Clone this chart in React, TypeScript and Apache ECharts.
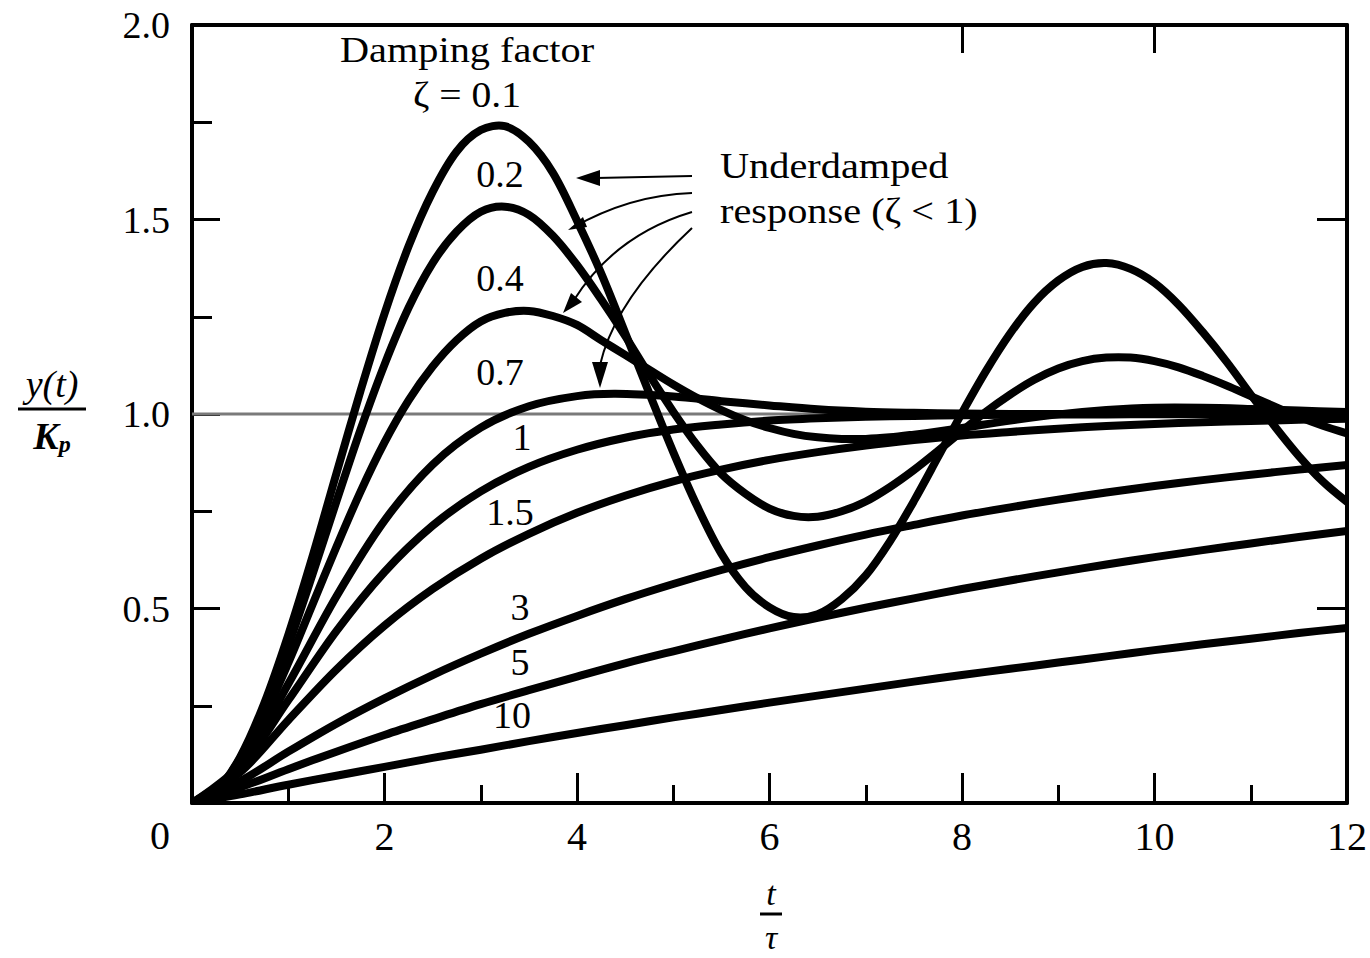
import React, { useEffect, useRef } from "react";
import * as echarts from "echarts";

const FONT = "'Liberation Serif', 'DejaVu Serif', serif";

// time samples (t / tau)
const T = [0, 0.5, 1, 1.5, 2, 2.5, 3, 3.5, 4, 4.5, 5, 5.5, 6, 6.5, 7, 7.5, 8, 8.5, 9, 9.5, 10, 10.5, 11, 11.5, 12];
const T_Q = [
  0, 0.25, 0.5, 0.75, 1, 1.25, 1.5, 1.75, 2, 2.25, 2.5, 2.75, 3, 3.25, 3.5, 3.75, 4, 4.25, 4.5, 4.75, 5, 5.25, 5.5, 5.75,
  6, 6.25, 6.5, 6.75, 7, 7.25, 7.5, 7.75, 8, 8.25, 8.5, 8.75, 9, 9.25, 9.5, 9.75, 10, 10.25, 10.5, 10.75, 11, 11.25, 11.5, 11.75, 12,
];
const T04 = [
  0, 0.25, 0.5, 0.75, 1, 1.25, 1.5, 1.75, 2, 2.25, 2.5, 2.75, 3, 3.25, 3.5, 3.75, 4, 4.25, 4.5, 4.75, 5, 5.25, 5.5, 5.75,
  6, 6.25, 6.5, 6.75, 7, 7.25, 7.5, 7.75, 8, 8.5, 9, 9.5, 10, 10.5, 11, 11.5, 12,
];
const T07 = [0, 0.5, 1, 1.5, 2, 2.5, 3, 3.5, 4, 4.4, 5, 5.5, 6, 6.5, 7, 7.5, 8, 9, 10, 11, 12];

// y(t)/Kp, per damping factor
const Z01 = [
  0, 0.031, 0.118, 0.256, 0.432, 0.632, 0.847, 1.059, 1.258, 1.431, 1.571, 1.675, 1.73, 1.74, 1.7, 1.62, 1.497, 1.362, 1.209, 1.054,
  0.902, 0.762, 0.641, 0.555, 0.503, 0.478, 0.485, 0.524, 0.585, 0.672, 0.776, 0.889, 1.003, 1.111, 1.207, 1.286, 1.343, 1.378,
  1.388, 1.373, 1.337, 1.281, 1.211, 1.134, 1.05, 0.968, 0.892, 0.826, 0.774,
];
const Z02 = [
  0, 0.03, 0.115, 0.244, 0.405, 0.586, 0.775, 0.959, 1.127, 1.273, 1.388, 1.469, 1.52, 1.533, 1.512, 1.458, 1.383, 1.295, 1.201, 1.101,
  1.006, 0.919, 0.846, 0.795, 0.757, 0.738, 0.736, 0.75, 0.775, 0.812, 0.856, 0.905, 0.956, 1.006, 1.05, 1.088, 1.117, 1.136,
  1.145, 1.145, 1.136, 1.12, 1.098, 1.073, 1.046, 1.019, 0.993, 0.97, 0.95,
];
const Z04 = [
  0, 0.029, 0.107, 0.222, 0.36, 0.509, 0.658, 0.8, 0.927, 1.035, 1.122, 1.19, 1.238, 1.26, 1.265, 1.252, 1.229, 1.19, 1.152, 1.114,
  1.076, 1.041, 1.01, 0.984, 0.964, 0.949, 0.94, 0.936, 0.936, 0.94, 0.947, 0.955, 0.964, 0.983, 0.999, 1.01, 1.016, 1.016, 1.013,
  1.009, 1.005,
];
const Z07 = [0, 0.098, 0.306, 0.531, 0.726, 0.87, 0.965, 1.02, 1.046, 1.052, 1.045, 1.033, 1.022, 1.012, 1.006, 1.003, 1.001, 1.0, 1.0, 1.0, 1.0];
const Z1 = [0, 0.09, 0.264, 0.442, 0.594, 0.713, 0.801, 0.864, 0.908, 0.939, 0.96, 0.973, 0.983, 0.989, 0.993, 0.995, 0.997, 0.998, 0.999, 0.999, 0.9995, 0.9997, 0.9998, 0.9999, 1.0];
const Z15 = [0, 0.079, 0.213, 0.343, 0.456, 0.55, 0.628, 0.692, 0.746, 0.79, 0.827, 0.857, 0.882, 0.902, 0.919, 0.933, 0.945, 0.954, 0.962, 0.969, 0.974, 0.979, 0.982, 0.985, 0.988];
const Z3 = [0, 0.056, 0.132, 0.204, 0.269, 0.329, 0.384, 0.435, 0.481, 0.524, 0.563, 0.599, 0.632, 0.662, 0.69, 0.715, 0.739, 0.76, 0.78, 0.798, 0.815, 0.83, 0.844, 0.857, 0.869];
const Z5 = [0, 0.04, 0.087, 0.132, 0.175, 0.215, 0.254, 0.29, 0.325, 0.359, 0.39, 0.42, 0.449, 0.476, 0.502, 0.526, 0.55, 0.572, 0.593, 0.613, 0.632, 0.65, 0.667, 0.684, 0.699];
const Z10 = [0, 0.022, 0.047, 0.07, 0.093, 0.116, 0.137, 0.159, 0.18, 0.2, 0.22, 0.239, 0.258, 0.276, 0.294, 0.312, 0.329, 0.345, 0.361, 0.377, 0.393, 0.408, 0.422, 0.437, 0.45];

const CURVES = [
  { name: "0.1", t: T_Q, values: Z01 },
  { name: "0.2", t: T_Q, values: Z02 },
  { name: "0.4", t: T04, values: Z04 },
  { name: "0.7", t: T07, values: Z07 },
  { name: "1", t: T, values: Z1 },
  { name: "1.5", t: T, values: Z15 },
  { name: "3", t: T, values: Z3 },
  { name: "5", t: T, values: Z5 },
  { name: "10", t: T, values: Z10 },
];

const STEADY_STATE = [[0, 1], [12, 1]];

const X_TICKS_TOP = [8, 10];
const Y_TICKS_RIGHT = [0.5, 1.5];

export default function App() {
  const ref = useRef<HTMLDivElement>(null);

  useEffect(() => {
    const chart = echarts.init(ref.current!, null, { renderer: "svg" });

    const txt = (x: number, y: number, text: string, extra: any = {}, sx = 1) => ({
      type: "text",
      x,
      y,
      scaleX: sx,
      style: {
        text,
        fill: "#000",
        font: `38px ${FONT}`,
        align: "center",
        verticalAlign: "middle",
        ...extra,
      },
    });

    const series: any[] = [
      {
        type: "line",
        data: STEADY_STATE,
        symbol: "none",
        lineStyle: { color: "#7a7a7a", width: 3 },
        z: 1,
        silent: true,
      },
      ...CURVES.map((c) => {
        const data = c.t.map((t, i) => [t, c.values[i]]);
        return {
          type: "custom",
          name: c.name,
          coordinateSystem: "cartesian2d",
          data,
          encode: { x: 0, y: 1 },
          clip: true,
          z: 3,
          silent: true,
          renderItem: (params: any, api: any) => {
            if (params.dataIndex !== 0) return null;
            const pts = data.map((d) => api.coord(d));
            return {
              type: "polyline",
              shape: { points: pts, smooth: 0.33 },
              style: { stroke: "#000", lineWidth: 8, fill: null, lineJoin: "round", lineCap: "round" },
            };
          },
        };
      }),
    ];

    const axisLine = { show: true, onZero: false, lineStyle: { color: "#000", width: 4 } };
    const tickStyle = { color: "#000", width: 3 };

    chart.setOption({
      animation: false,
      backgroundColor: "#fff",
      grid: { left: 192, right: 20, top: 25, bottom: 155, containLabel: false },
      xAxis: [
        {
          type: "value",
          min: 0,
          max: 12,
          interval: 2,
          position: "bottom",
          axisLine,
          axisTick: { show: true, inside: true, length: 30, lineStyle: tickStyle },
          minorTick: { show: true, splitNumber: 2, length: 18, lineStyle: tickStyle },
          splitLine: { show: false },
          minorSplitLine: { show: false },
          axisLabel: {
            formatter: (v: number) => (v === 0 ? "" : String(v)),
            margin: 13,
            fontSize: 40,
            fontFamily: FONT,
            color: "#000",
          },
        },
        {
          type: "value",
          min: 0,
          max: 12,
          interval: 2,
          position: "top",
          axisLine,
          axisTick: { show: true, inside: true, length: 28, customValues: X_TICKS_TOP, lineStyle: tickStyle },
          splitLine: { show: false },
          axisLabel: { show: false },
        },
      ],
      yAxis: [
        {
          type: "value",
          min: 0,
          max: 2,
          interval: 0.5,
          position: "left",
          axisLine,
          axisTick: { show: true, inside: true, length: 28, lineStyle: tickStyle },
          minorTick: { show: true, splitNumber: 2, length: 20, lineStyle: tickStyle },
          splitLine: { show: false },
          minorSplitLine: { show: false },
          axisLabel: {
            formatter: (v: number) => (v === 0 ? "" : v.toFixed(1)),
            margin: 22,
            fontSize: 38,
            fontFamily: FONT,
            color: "#000",
          },
        },
        {
          type: "value",
          min: 0,
          max: 2,
          interval: 0.5,
          position: "right",
          axisLine,
          axisTick: { show: true, inside: true, length: 30, customValues: Y_TICKS_RIGHT, lineStyle: tickStyle },
          splitLine: { show: false },
          axisLabel: { show: false },
        },
      ],
      series,
      graphic: [
        txt(160, 835, "0", { font: `40px ${FONT}` }),
        txt(467, 50, "Damping factor", { font: `36px ${FONT}` }, 1.12),
        txt(467, 95, "ζ = 0.1", { font: `36px ${FONT}` }, 1.1),
        txt(500, 174, "0.2"),
        txt(500, 278, "0.4"),
        txt(500, 372, "0.7"),
        txt(522, 437, "1"),
        txt(510, 512, "1.5"),
        txt(520, 607, "3"),
        txt(520, 662, "5"),
        txt(512, 715, "10"),
        txt(720, 166, "Underdamped", { align: "left", font: `36px ${FONT}` }, 1.12),
        txt(720, 211, "response (ζ < 1)", { align: "left", font: `36px ${FONT}` }, 1.12),
        // y-axis name: y(t) / Kp
        txt(52, 384, "y(t)", { font: `italic 38px ${FONT}` }),
        { type: "line", shape: { x1: 18, y1: 409, x2: 86, y2: 409 }, style: { stroke: "#000", lineWidth: 3 } },
        {
          type: "text",
          x: 52,
          y: 436,
          style: {
            text: "{k|K}{p|p}",
            align: "center",
            verticalAlign: "middle",
            rich: {
              k: { font: `italic bold 38px ${FONT}`, fill: "#000" },
              p: { font: `italic bold 24px ${FONT}`, fill: "#000", padding: [16, 0, 0, 0] },
            },
          },
        },
        // x-axis name: t / tau
        txt(771, 893, "t", { font: `italic 34px ${FONT}` }),
        { type: "line", shape: { x1: 760, y1: 914, x2: 782, y2: 914 }, style: { stroke: "#000", lineWidth: 3 } },
        txt(771, 937, "τ", { font: `italic 34px ${FONT}` }),
        // leader lines
        { type: "line", shape: { x1: 692, y1: 176, x2: 596, y2: 178 }, style: { stroke: "#000", lineWidth: 2 } },
        { type: "polygon", shape: { points: [[576, 178], [600, 170], [600, 186]] }, style: { fill: "#000" } },
        {
          type: "bezierCurve",
          shape: { x1: 692, y1: 193, cpx1: 630, cpy1: 195, x2: 572, y2: 228 },
          style: { stroke: "#000", lineWidth: 2, fill: null },
        },
        { type: "polygon", shape: { points: [[568, 230], [587, 227], [583, 217]] }, style: { fill: "#000" } },
        {
          type: "bezierCurve",
          shape: { x1: 692, y1: 212, cpx1: 615, cpy1: 235, x2: 574, y2: 300 },
          style: { stroke: "#000", lineWidth: 2, fill: null },
        },
        { type: "polygon", shape: { points: [[563, 313], [582, 302], [571, 293]] }, style: { fill: "#000" } },
        {
          type: "bezierCurve",
          shape: { x1: 692, y1: 228, cpx1: 615, cpy1: 300, x2: 600, y2: 365 },
          style: { stroke: "#000", lineWidth: 2, fill: null },
        },
        { type: "polygon", shape: { points: [[600, 388], [592, 362], [608, 362]] }, style: { fill: "#000" } },
      ],
    });

    return () => chart.dispose();
  }, []);

  return (
    <div
      ref={ref}
      style={{ position: "absolute", left: 0, top: 0, width: 1370, height: 958, background: "#fff" }}
    />
  );
}
